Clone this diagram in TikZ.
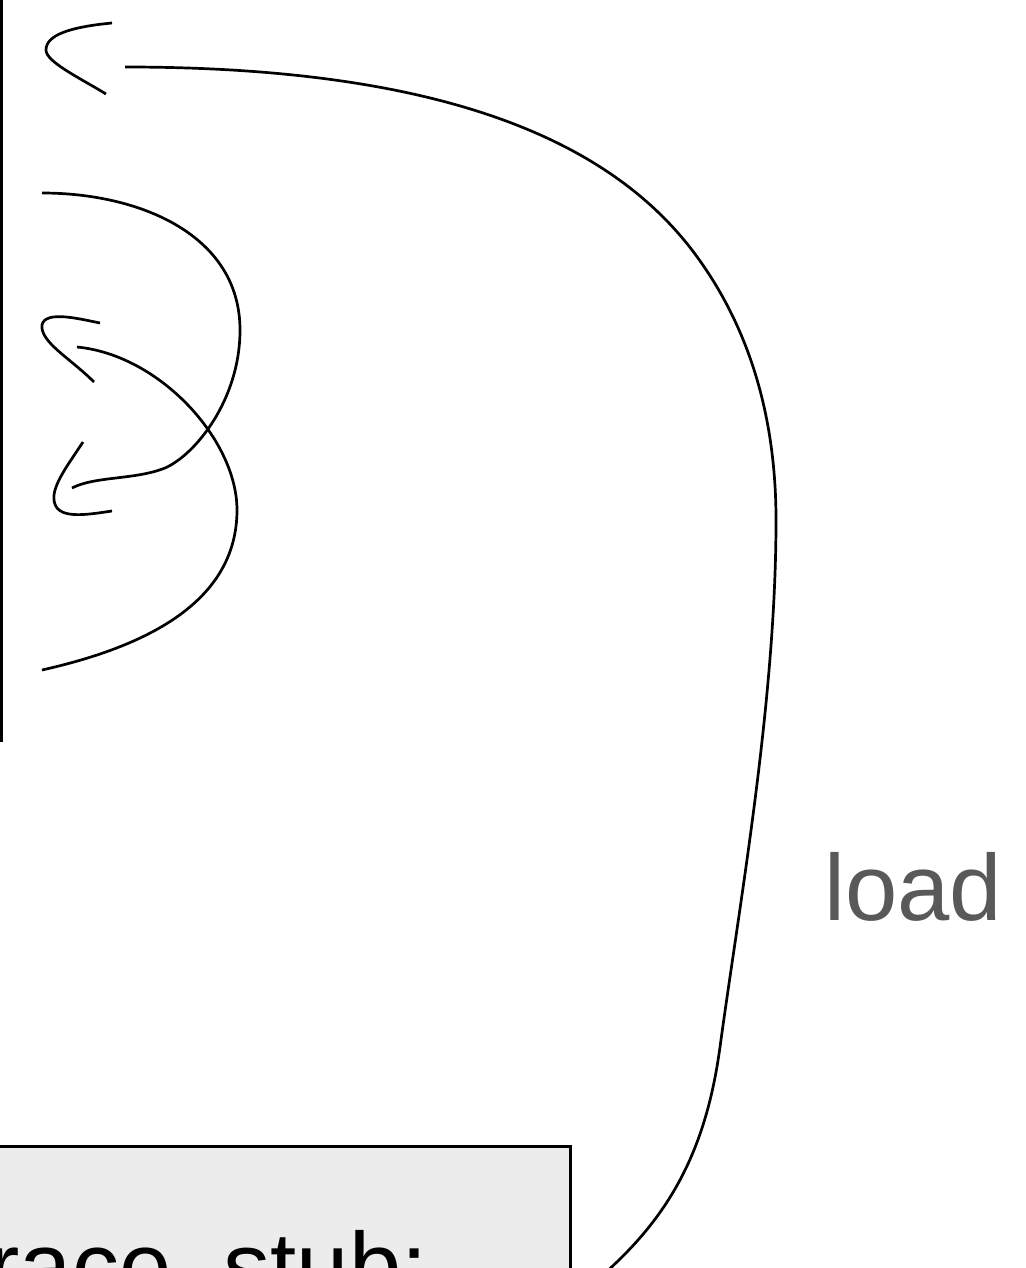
\documentclass[tikz,border=0pt]{standalone}
\usepackage{fontspec}
\newfontfamily\arialish{Liberation Sans}
\usetikzlibrary{positioning}

\begin{document}
\begin{tikzpicture}[x=0.5pt, y=-0.5pt,
  box/.style={draw, line width=1.5pt, outer sep=0pt},
  edge/.style={line width=1.35pt},
  big/.style={font=\arialish\fontsize{47}{56}\selectfont},
  lbl/.style={big, text=black!65, inner sep=0pt}
]
\useasboundingbox (0,0) rectangle (1026,1268);
\clip (0,0) rectangle (1026,1268);

% boxes (only part of them is in view)
\node[box, anchor=south east, minimum width=300pt, minimum height=420pt] (b1) at (1.5,740) {};
\node[box, big, fill=gray!15, anchor=north east, minimum width=375pt,
      inner ysep=40pt, text height=36pt, text depth=10pt] (b2) at (570,1146) {trace\_stub:};
\node[lbl, anchor=base] (ld) at (913,920) {load};

% loose ends of the connectors
\coordinate (ldsrc) at (605,1273);
\coordinate (ldend) at (125,67);
\coordinate (l1s) at (42,193);
\coordinate (l1e) at (72,488);
\coordinate (l2s) at (42,670);
\coordinate (l2e) at (77,347);

% load: stub -> top
\draw[edge] (ldsrc) .. controls (670,1215) and (706,1150) .. (720,1047)
  .. controls (740,900) and (776,700) .. (776,520)
  .. controls (776,400) and (740,313) .. (692,250)
  .. controls (600,130) and (420,67) .. (ldend);
\draw[edge] (112,23) .. controls (70,27) and (46,35) .. (46,50)
  .. controls (46,62) and (80,78) .. (106,94);

% self loops on b1
\draw[edge] (l1s) .. controls (140,193) and (240,235) .. (240,330)
  .. controls (240,400) and (195,455) .. (165,468)
  .. controls (135,480) and (95,476) .. (l1e);
\draw[edge] (83,442) .. controls (70,462) and (52,485) .. (54,500)
  .. controls (56,520) and (85,515) .. (112,511);

\draw[edge] (l2s) .. controls (140,648) and (237,605) .. (237,510)
  .. controls (237,440) and (160,355) .. (l2e);
\draw[edge] (100,323) .. controls (80,319) and (45,310) .. (42,325)
  .. controls (40,342) and (70,358) .. (94,382);
\end{tikzpicture}
\end{document}
